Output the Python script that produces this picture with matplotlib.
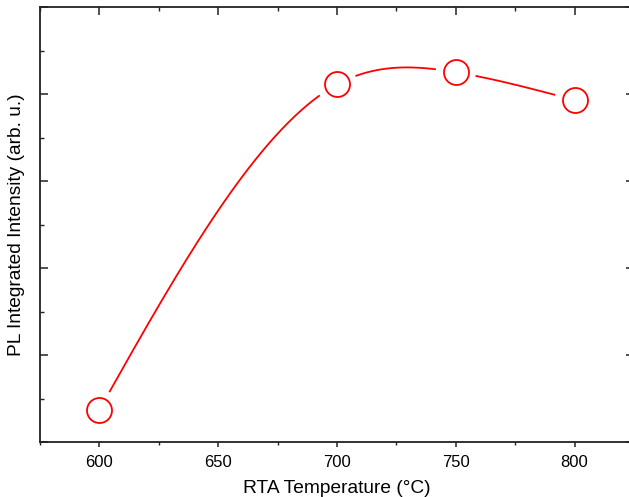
import numpy as np
import matplotlib
matplotlib.use("Agg")
import matplotlib.pyplot as plt
from matplotlib.ticker import MultipleLocator, NullFormatter

plt.rcParams['font.family'] = ['Liberation Sans', 'DejaVu Sans']

temperature = [600, 700, 750, 800]
intensity = [0.37, 4.11, 4.25, 3.93]
x_ticks = [600, 650, 700, 750, 800]


def natural_spline(x, y, xs):
    x = np.asarray(x, float)
    y = np.asarray(y, float)
    n = len(x)
    h = np.diff(x)
    A = np.zeros((n, n))
    b = np.zeros(n)
    A[0, 0] = A[-1, -1] = 1
    for i in range(1, n - 1):
        A[i, i - 1] = h[i - 1]
        A[i, i] = 2 * (h[i - 1] + h[i])
        A[i, i + 1] = h[i]
        b[i] = 3 * ((y[i + 1] - y[i]) / h[i] - (y[i] - y[i - 1]) / h[i - 1])
    c = np.linalg.solve(A, b)
    out = np.empty_like(xs)
    for k, xv in enumerate(xs):
        i = min(max(np.searchsorted(x, xv) - 1, 0), n - 2)
        dx = xv - x[i]
        bi = (y[i + 1] - y[i]) / h[i] - h[i] * (2 * c[i] + c[i + 1]) / 3
        di = (c[i + 1] - c[i]) / (3 * h[i])
        out[k] = y[i] + bi * dx + c[i] * dx ** 2 + di * dx ** 3
    return out


fig = plt.figure(figsize=(6.29, 4.97), dpi=100)
ax = fig.add_axes([40 / 629, 55 / 497, 594 / 629, 435 / 497])
ax.set_xlim(575, 825)
ax.set_ylim(0, 5)

xs = np.linspace(temperature[0], temperature[-1], 1200)
ys = natural_spline(temperature, intensity, xs)

# leave a gap in the curve around each marker
fig.canvas.draw()
pts = ax.transData.transform(np.column_stack([xs, ys]))
mk = ax.transData.transform(np.column_stack([temperature, intensity]))
mask = np.zeros(len(xs), bool)
for m in mk:
    mask |= np.hypot(pts[:, 0] - m[0], pts[:, 1] - m[1]) < 20
ys_gap = ys.copy()
ys_gap[mask] = np.nan

ax.plot(xs, ys_gap, color='#ff0000', lw=1.3, solid_capstyle='butt')
ax.plot(temperature, intensity, 'o', ms=18, mfc='none', mec='#ff0000', mew=1.3)

for s in ax.spines.values():
    s.set_linewidth(1.3)
    s.set_color('#222222')

ax.set_xticks(x_ticks)
ax.xaxis.set_minor_locator(MultipleLocator(25))
ax.yaxis.set_major_locator(MultipleLocator(1))
ax.yaxis.set_minor_locator(MultipleLocator(0.5))
ax.yaxis.set_major_formatter(NullFormatter())

ax.tick_params(axis='x', which='major', direction='out', length=3.5, width=1.1,
               top=True, labelsize=12, pad=6, color='#222222')
ax.tick_params(axis='x', which='minor', direction='out', length=2.5, width=1.0,
               top=True, color='#222222')
ax.tick_params(axis='y', which='major', direction='in', length=6, width=1.1,
               right=True, color='#222222')
ax.tick_params(axis='y', which='minor', direction='in', length=3, width=1.0,
               right=True, color='#222222')
# top ticks point inward
for tk in ax.xaxis.get_major_ticks():
    tk.tick2line.set_marker(matplotlib.lines.TICKDOWN)
    tk.tick2line.set_markersize(6)
for tk in ax.xaxis.get_minor_ticks():
    tk.tick2line.set_marker(matplotlib.lines.TICKDOWN)
    tk.tick2line.set_markersize(3)

ax.set_xlabel('RTA Temperature (°C)', fontsize=13.8, labelpad=7)
ax.set_ylabel('PL Integrated Intensity (arb. u.)', fontsize=13.8, labelpad=7)

fig.savefig('out.png', dpi=100)
